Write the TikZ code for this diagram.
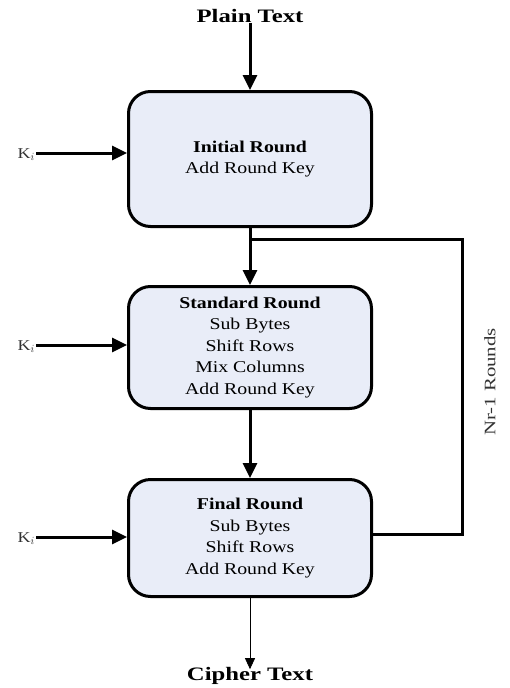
\documentclass[tikz,border=0pt]{standalone}
\usepackage{fontspec}
\setmainfont{Liberation Serif}[FakeStretch=1.2]
\newfontfamily\widefont{Liberation Serif}[FakeStretch=1.3]
\usetikzlibrary{arrows.meta}
\definecolor{boxfill}{RGB}{233,237,248}
\tikzset{
  roundbox/.style={draw=black, line width=3pt, fill=boxfill, rounded corners=22pt,
    minimum width=243pt, align=center, inner sep=0pt,
    font=\fontsize{16.5}{21.5}\selectfont},
  thickarrow/.style={line width=3pt, -{Triangle[length=15pt,width=14pt]}},
  thinarrow/.style={line width=0.8pt, -{Triangle[length=11pt,width=10pt]}},
  loopline/.style={line width=3pt},
  endtext/.style={inner sep=0pt, font=\widefont\bfseries\fontsize{19}{22}\selectfont},
  klabel/.style={inner sep=0pt, anchor=base east, font=\fontsize{15}{17}\selectfont, text=black!80},
  sidelabel/.style={inner sep=0pt, rotate=90, font=\widefont\fontsize{16}{19}\selectfont, text=black!80}
}
\begin{document}
\begin{tikzpicture}[x=1pt,y=-1pt]
\useasboundingbox (0,0) rectangle (509,688);
\node[endtext] (pt) at (250,16) {Plain Text};
\node[roundbox, minimum height=135pt] (b1) at (250,159)
  {\textbf{Initial Round}\\Add Round Key};
\node[roundbox, minimum height=122pt] (b2) at (250,347.5)
  {\textbf{Standard Round}\\Sub Bytes\\Shift Rows\\Mix Columns\\Add Round Key};
\node[roundbox, minimum height=117pt] (b3) at (250,538)
  {\textbf{Final Round}\\Sub Bytes\\Shift Rows\\Add Round Key};
\node[endtext] (ct) at (250,676) {Cipher Text};

\coordinate (ka1) at (36,153);
\coordinate (ka2) at (36,345);
\coordinate (ka3) at (36,537);
\node[klabel] (k1) at ([xshift=-1pt,yshift=-5pt]ka1) {K$_i$};
\node[klabel] (k2) at ([xshift=-1pt,yshift=-5pt]ka2) {K$_i$};
\node[klabel] (k3) at ([xshift=-1pt,yshift=-5pt]ka3) {K$_i$};

\draw[thickarrow] (pt.south) -- (b1.north);
\draw[thickarrow] (b1.south) -- (b2.north);
\draw[thickarrow] (b2.south) -- (b3.north);
\draw[thinarrow] (b3.south) -- ([yshift=-2pt]ct.north);
\draw[thickarrow] (ka1) -- (ka1 -| b1.west);
\draw[thickarrow] (ka2) -- (ka2 -| b2.west);
\draw[thickarrow] (ka3) -- (ka3 -| b3.west);

\coordinate (j) at (250,239);
\coordinate (r) at (462,534);
\draw[loopline] (j) -| (r) -- (r -| b3.east);
\node[sidelabel] (nr) at (490,382) {Nr-1 Rounds};
\end{tikzpicture}
\end{document}
